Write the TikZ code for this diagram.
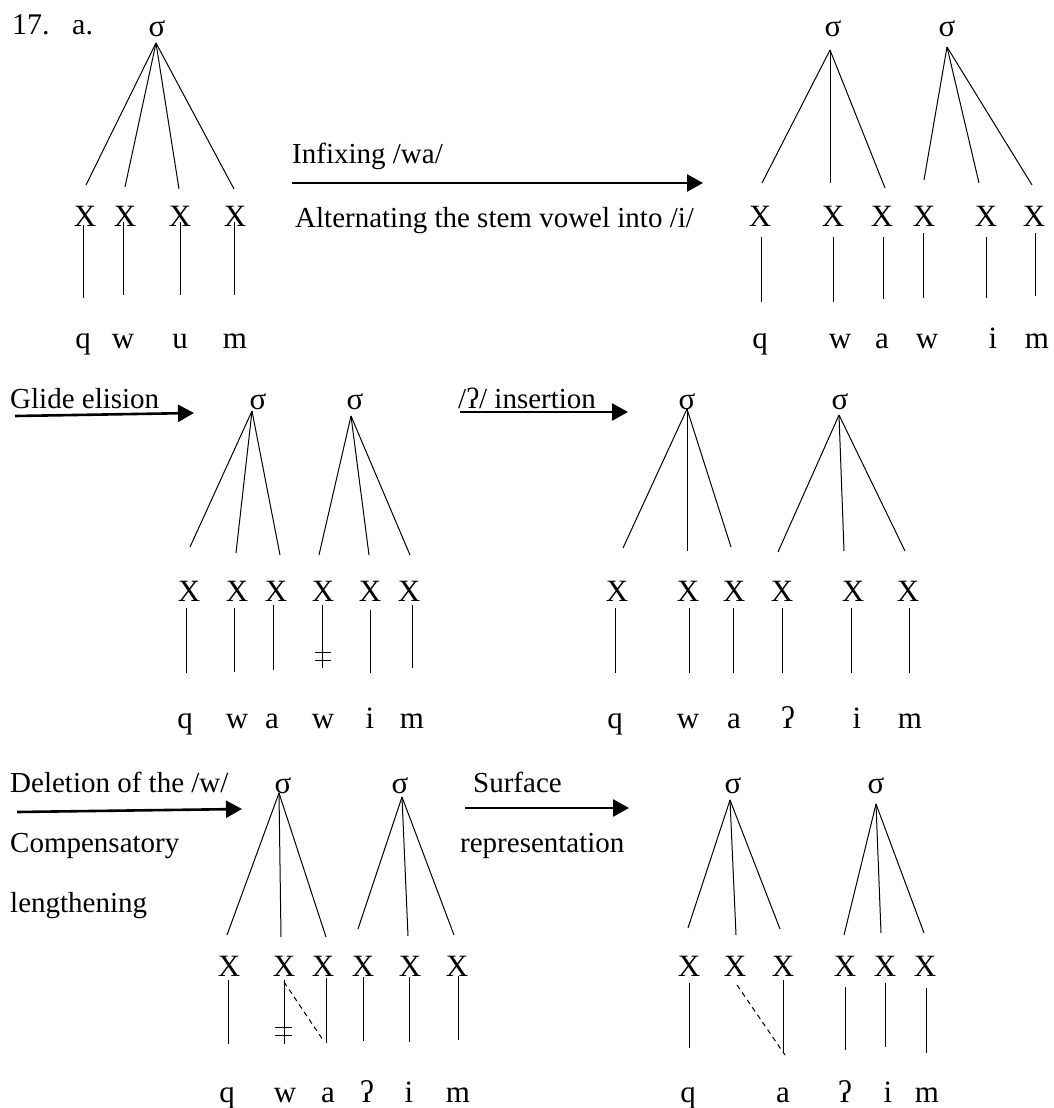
\documentclass[tikz,border=0pt]{standalone}
\usepackage{fontspec}
\setmainfont{Liberation Serif}
\usetikzlibrary{arrows.meta}
\newcommand\fanl[4]{\coordinate (#2) at (#3,#4); \draw[br] (#1) -- (#2);}
\newcommand\vertl[4]{\coordinate (#1t) at (#2,#3); \coordinate (#1b) at (#2,#4); \draw[br] (#1t) -- (#1b);}
\newcommand\nbars[5]{\coordinate (#1l) at (#2,#4); \coordinate (#1r) at (#3,#4); \draw[br] (#1l) -- (#1r);
  \coordinate (#1L) at (#2,#5); \coordinate (#1R) at (#3,#5); \draw[br] (#1L) -- (#1R);}
\begin{document}
\begin{tikzpicture}[x=1pt,y=-1pt,
  lab/.style={font=\fontsize{29}{34}\selectfont, inner sep=0pt, anchor=base west},
  sig/.style={font=\fontsize{31}{36}\selectfont, inner sep=0pt, anchor=base},
  xx/.style={font=\fontsize{31}{36}\selectfont, inner sep=0pt, anchor=base},
  seg/.style={font=\fontsize{31}{36}\selectfont, inner sep=0pt, anchor=base},
  br/.style={line width=1pt},
  arr/.style={line width=2.6pt, -{Triangle[length=16pt,width=17pt]}},
  dsh/.style={line width=1pt, dash pattern=on 5pt off 4pt},
]
\useasboundingbox (0,0) rectangle (1053,1108);

% ---------- Tree 1 (top-left) ----------
\node[lab, font=\fontsize{30}{35}\selectfont] (n17) at (12,35) {17.};
\node[lab, font=\fontsize{30}{35}\selectfont] (na) at (72,35) {a.};
\node[sig] (s1) at (157,37) {σ};
\coordinate (s1f) at (156,43);
\node[xx] (a1) at (85,226) {X};
\node[xx] (a2) at (125,226) {X};
\node[xx] (a3) at (180,226) {X};
\node[xx] (a4) at (235,226) {X};
\fanl{s1f}{fa1}{86}{185}
\fanl{s1f}{fa2}{125}{187}
\fanl{s1f}{fa3}{179}{189}
\fanl{s1f}{fa4}{234}{189}
\vertl{va1}{83}{225}{298}
\vertl{va2}{123}{222}{295}
\vertl{va3}{180}{222}{295}
\vertl{va4}{234}{222}{295}
\node[seg] (ga1) at (83,348) {q};
\node[seg] (ga2) at (123,348) {w};
\node[seg] (ga3) at (180,348) {u};
\node[seg] (ga4) at (235,348) {m};

% ---------- Arrow 1 ----------
\node[lab] (l1) at (292,163) {Infixing /wa/};
\coordinate (r1s) at (292,183);
\coordinate (r1e) at (703,183);
\draw[arr] (r1s) -- (r1e);
\node[lab] (l2) at (295,227) {Alternating the stem vowel into /i/};

% ---------- Tree 2 (top-right) ----------
\node[sig] (s2) at (833,37) {σ};
\node[sig] (s3) at (947,37) {σ};
\coordinate (s2f) at (830,50);
\coordinate (s3f) at (947,47);
\node[xx] (b1) at (760,226) {X};
\node[xx] (b2) at (833,226) {X};
\node[xx] (b3) at (882,226) {X};
\node[xx] (b4) at (924,226) {X};
\node[xx] (b5) at (986,226) {X};
\node[xx] (b6) at (1034,226) {X};
\fanl{s2f}{fb1}{762}{183}
\fanl{s2f}{fb2}{830}{183}
\fanl{s2f}{fb3}{885}{188}
\fanl{s3f}{fb4}{924}{180}
\fanl{s3f}{fb5}{979}{183}
\fanl{s3f}{fb6}{1032}{185}
\vertl{vb1}{761}{237}{302}
\vertl{vb2}{833}{237}{302}
\vertl{vb3}{883}{237}{299}
\vertl{vb4}{923}{233}{298}
\vertl{vb5}{986}{237}{298}
\vertl{vb6}{1035}{233}{296}
\node[seg] (gb1) at (760,348) {q};
\node[seg] (gb2) at (840,348) {w};
\node[seg] (gb3) at (882,348) {a};
\node[seg] (gb4) at (927,348) {w};
\node[seg] (gb5) at (993,348) {i};
\node[seg] (gb6) at (1037,348) {m};

% ---------- Row 2 left ----------
\node[lab] (l3) at (10,408) {Glide elision};
\coordinate (r2s) at (15,416);
\coordinate (r2e) at (194,413);
\draw[arr] (r2s) -- (r2e);
\node[sig] (s4) at (258,409) {σ};
\node[sig] (s5) at (355,409) {σ};
\coordinate (s4f) at (252,411);
\coordinate (s5f) at (351,416);
\node[xx] (c1) at (189,601) {X};
\node[xx] (c2) at (237,601) {X};
\node[xx] (c3) at (276,601) {X};
\node[xx] (c4) at (323,601) {X};
\node[xx] (c5) at (370,601) {X};
\node[xx] (c6) at (409,601) {X};
\fanl{s4f}{fc1}{190}{547}
\fanl{s4f}{fc2}{236}{553}
\fanl{s4f}{fc3}{280}{555}
\fanl{s5f}{fc4}{319}{555}
\fanl{s5f}{fc5}{369}{555}
\fanl{s5f}{fc6}{410}{555}
\vertl{vc1}{186}{608}{673}
\vertl{vc2}{234}{608}{672}
\vertl{vc3}{273}{605}{670}
\vertl{vc4}{322}{605}{668}
\vertl{vc5}{370}{610}{673}
\vertl{vc6}{412}{605}{668}
\nbars{kc}{315}{331}{652}{660}
\node[seg] (gc1) at (185,728) {q};
\node[seg] (gc2) at (237,728) {w};
\node[seg] (gc3) at (272,728) {a};
\node[seg] (gc4) at (323,728) {w};
\node[seg] (gc5) at (370,728) {i};
\node[seg] (gc6) at (412,728) {m};

% ---------- Row 2 right ----------
\node[lab] (l4) at (458,408) {/ʔ/ insertion};
\coordinate (r3s) at (460,412);
\coordinate (r3e) at (628,412);
\draw[arr] (r3s) -- (r3e);
\node[sig] (s6) at (687,409) {σ};
\node[sig] (s7) at (840,409) {σ};
\coordinate (s6f) at (687,409);
\coordinate (s7f) at (839,415);
\node[xx] (d1) at (617,601) {X};
\node[xx] (d2) at (688,601) {X};
\node[xx] (d3) at (734,601) {X};
\node[xx] (d4) at (782,601) {X};
\node[xx] (d5) at (853,601) {X};
\node[xx] (d6) at (908,601) {X};
\fanl{s6f}{fd1}{623}{548}
\fanl{s6f}{fd2}{687}{551}
\fanl{s6f}{fd3}{731}{547}
\fanl{s7f}{fd4}{778}{552}
\fanl{s7f}{fd5}{844}{551}
\fanl{s7f}{fd6}{905}{551}
\vertl{vd1}{615}{608}{673}
\vertl{vd2}{689}{608}{673}
\vertl{vd3}{733}{608}{673}
\vertl{vd4}{782}{608}{673}
\vertl{vd5}{851}{608}{673}
\vertl{vd6}{909}{608}{673}
\node[seg] (gd1) at (615,728) {q};
\node[seg] (gd2) at (688,728) {w};
\node[seg] (gd3) at (734,728) {a};
\node[seg] (gd4) at (788,728) {ʔ};
\node[seg] (gd5) at (857,728) {i};
\node[seg] (gd6) at (910,728) {m};

% ---------- Row 3 left ----------
\node[lab] (l5) at (10,792) {Deletion of the /w/};
\coordinate (r4s) at (17,812);
\coordinate (r4e) at (242,809);
\draw[arr] (r4s) -- (r4e);
\node[lab] (l6) at (10,852) {Compensatory};
\node[lab] (l7) at (10,912) {lengthening};
\node[sig] (s8) at (283,793) {σ};
\node[sig] (s9) at (400,793) {σ};
\coordinate (s8f) at (279,793);
\coordinate (s9f) at (402,797);
\node[xx] (e1) at (229,976) {X};
\node[xx] (e2) at (284,976) {X};
\node[xx] (e3) at (323,976) {X};
\node[xx] (e4) at (363,976) {X};
\node[xx] (e5) at (410,976) {X};
\node[xx] (e6) at (457,976) {X};
\fanl{s8f}{fe1}{227}{935}
\fanl{s8f}{fe2}{281}{937}
\fanl{s8f}{fe3}{326}{937}
\fanl{s9f}{fe4}{358}{929}
\fanl{s9f}{fe5}{408}{936}
\fanl{s9f}{fe6}{454}{935}
\vertl{ve1}{228}{980}{1044}
\vertl{ve2}{284}{980}{1044}
\vertl{ve3}{326}{978}{1043}
\vertl{ve4}{363}{977}{1041}
\vertl{ve5}{409}{977}{1042}
\vertl{ve6}{458}{976}{1040}
\coordinate (de1) at (284,982);
\coordinate (de2) at (323,1040);
\draw[dsh] (de1) -- (de2);
\nbars{ke}{275}{292}{1027}{1035}
\node[seg] (ge1) at (227,1102) {q};
\node[seg] (ge2) at (285,1102) {w};
\node[seg] (ge3) at (328,1102) {a};
\node[seg] (ge4) at (367,1102) {ʔ};
\node[seg] (ge5) at (409,1102) {i};
\node[seg] (ge6) at (458,1102) {m};

% ---------- Row 3 right ----------
\node[lab] (l8) at (473,792) {Surface};
\coordinate (r5s) at (465,808);
\coordinate (r5e) at (629,808);
\draw[arr] (r5s) -- (r5e);
\node[lab] (l9) at (460,852) {representation};
\node[sig] (s10) at (733,793) {σ};
\node[sig] (s11) at (876,793) {σ};
\coordinate (s10f) at (730,800);
\coordinate (s11f) at (876,804);
\node[xx] (f1) at (689,976) {X};
\node[xx] (f2) at (735,976) {X};
\node[xx] (f3) at (783,976) {X};
\node[xx] (f4) at (845,976) {X};
\node[xx] (f5) at (885,976) {X};
\node[xx] (f6) at (925,976) {X};
\fanl{s10f}{ff1}{688}{928}
\fanl{s10f}{ff2}{736}{935}
\fanl{s10f}{ff3}{780}{929}
\fanl{s11f}{ff4}{844}{935}
\fanl{s11f}{ff5}{881}{933}
\fanl{s11f}{ff6}{924}{933}
\vertl{vf1}{689}{983}{1048}
\vertl{vf3}{783}{980}{1053}
\vertl{vf4}{845}{987}{1050}
\vertl{vf5}{885}{983}{1047}
\vertl{vf6}{926}{988}{1053}
\coordinate (df1) at (737,985);
\coordinate (df2) at (785,1055);
\draw[dsh] (df1) -- (df2);
\node[seg] (gf1) at (688,1102) {q};
\node[seg] (gf3) at (783,1102) {a};
\node[seg] (gf4) at (845,1102) {ʔ};
\node[seg] (gf5) at (888,1102) {i};
\node[seg] (gf6) at (927,1102) {m};
\end{tikzpicture}
\end{document}
